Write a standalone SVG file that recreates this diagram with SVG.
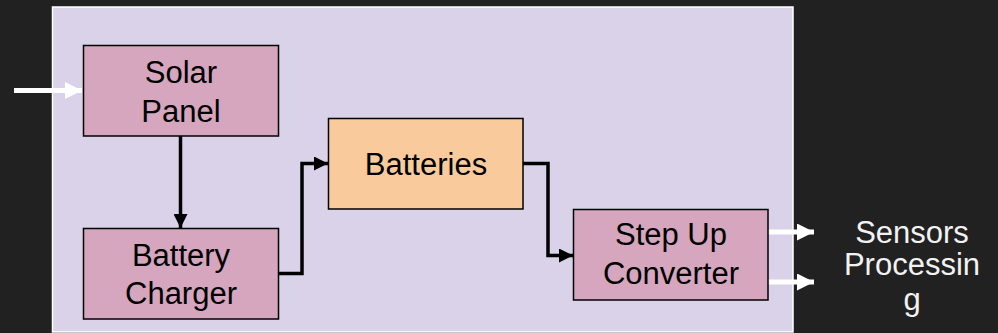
<svg xmlns="http://www.w3.org/2000/svg" width="998" height="333" viewBox="0 0 998 333">
<defs>
<style>
.box{stroke:#000;stroke-width:1.5}
.pink{fill:#D5A6BD}
.orange{fill:#F9CB9C}
.t{font-family:"Liberation Sans",Arial,sans-serif;font-size:31px;fill:#000;text-anchor:middle}
.w{fill:#F2F2F2}
.blk{fill:none;stroke:#000;stroke-width:3.5;stroke-linejoin:miter}
.wht{fill:none;stroke:#fff;stroke-width:5}
</style>
<marker id="ab" viewBox="0 0 10 10" refX="10" refY="5" markerUnits="userSpaceOnUse" markerWidth="15" markerHeight="14" orient="auto">
<path d="M0,0 L10,5 L0,10 Z" fill="#000"/>
</marker>
<marker id="aw" viewBox="0 0 10 10" refX="10" refY="5" markerUnits="userSpaceOnUse" markerWidth="17" markerHeight="17" orient="auto">
<path d="M0,0 L10,5 L0,10 Z" fill="#fff"/>
</marker>
</defs>
<rect x="0" y="0" width="998" height="333" fill="#212121"/>
<rect id="panel" x="52.5" y="7" width="740.5" height="325" fill="#D9D2E9" stroke="#fff" stroke-width="1.5"/>
<g id="connectors">
<path class="wht" d="M14,90.5 H82" marker-end="url(#aw)"/>
<path class="blk" d="M180.5,136 V228" marker-end="url(#ab)"/>
<path class="blk" d="M278,273.5 H302 V163.5 H328" marker-end="url(#ab)"/>
<path class="blk" d="M523,163.5 H548 V255.5 H573" marker-end="url(#ab)"/>
<path class="wht" d="M768,232 H814" marker-end="url(#aw)"/>
<path class="wht" d="M768,282 H814" marker-end="url(#aw)"/>
</g>
<g id="solar-panel">
<rect class="box pink" x="83.5" y="45.5" width="195" height="90.5"/>
<text class="t" x="181" y="83">Solar</text>
<text class="t" x="181" y="122">Panel</text>
</g>
<g id="battery-charger">
<rect class="box pink" x="83.5" y="228.5" width="195" height="90.5"/>
<text class="t" x="181" y="266">Battery</text>
<text class="t" x="181" y="304">Charger</text>
</g>
<g id="batteries">
<rect class="box orange" x="328.5" y="118.5" width="194.5" height="90.5"/>
<text class="t" x="426" y="175">Batteries</text>
</g>
<g id="step-up-converter">
<rect class="box pink" x="573.5" y="209.5" width="194.5" height="90.5"/>
<text class="t" x="671" y="245">Step Up</text>
<text class="t" x="671" y="284">Converter</text>
</g>
<g id="outputs">
<text class="t w" x="912" y="243">Sensors</text>
<text class="t w" x="912" y="275">Processin</text>
<text class="t w" x="912" y="310">g</text>
</g>
</svg>
